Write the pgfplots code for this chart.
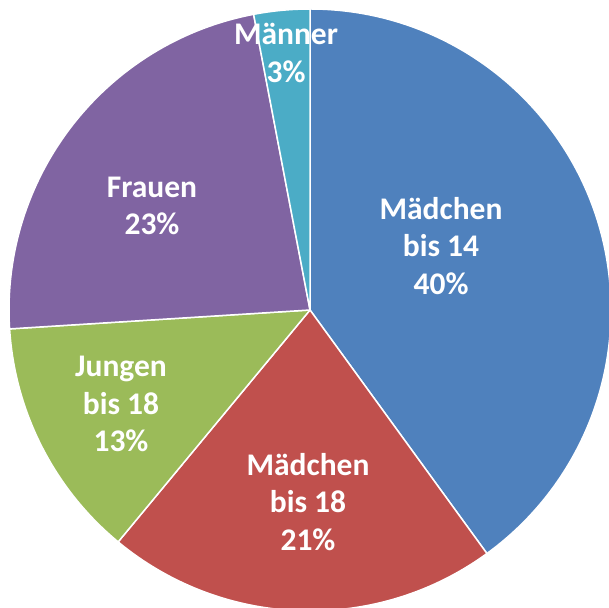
\documentclass[border=0pt]{standalone}
\usepackage{pgfplots}
\pgfplotsset{compat=1.18}
\usepackage{fontspec}
\setmainfont{Carlito}
\definecolor{cA}{HTML}{4F81BD}
\definecolor{cB}{HTML}{C0504D}
\definecolor{cC}{HTML}{9BBB59}
\definecolor{cD}{HTML}{8064A2}
\definecolor{cE}{HTML}{4BACC6}
% #1 start (percent), #2 value (percent), #3 colour
\newcommand{\slice}[3]{%
  \fill[#3, draw=white, line width=1.5pt, line join=round]
    (axis cs:0,0) -- (axis cs:{301*cos(90-3.6*#1)},{301*sin(90-3.6*#1)})
    arc[start angle={90-3.6*#1}, end angle={90-3.6*(#1+#2)}, radius=301pt] -- cycle;}
\newcommand{\lab}[3]{%
  \node[text=white, font=\fontsize{31.5}{37.5}\selectfont\bfseries, align=center]
    at (axis cs:#1,#2) {#3};}
\begin{document}
\begin{tikzpicture}
\begin{axis}[hide axis, x=1pt, y=1pt,
  xmin=-310, xmax=299, ymin=-297, ymax=310,
  scale only axis]
\slice{0}{40}{cA}
\slice{40}{21}{cB}
\slice{61}{13}{cC}
\slice{74}{23}{cD}
\slice{97}{3}{cE}
\lab{131}{64}{Mädchen\\bis 14\\40\%}
\lab{-2}{-192}{Mädchen\\bis 18\\21\%}
\lab{-189}{-94}{Jungen\\bis 18\\13\%}
\lab{-158}{104}{Frauen\\23\%}
\lab{-24}{257}{Männer\\3\%}
\end{axis}
\pgfresetboundingbox
\path (current axis.south west) rectangle (current axis.north east);
\end{tikzpicture}
\end{document}
